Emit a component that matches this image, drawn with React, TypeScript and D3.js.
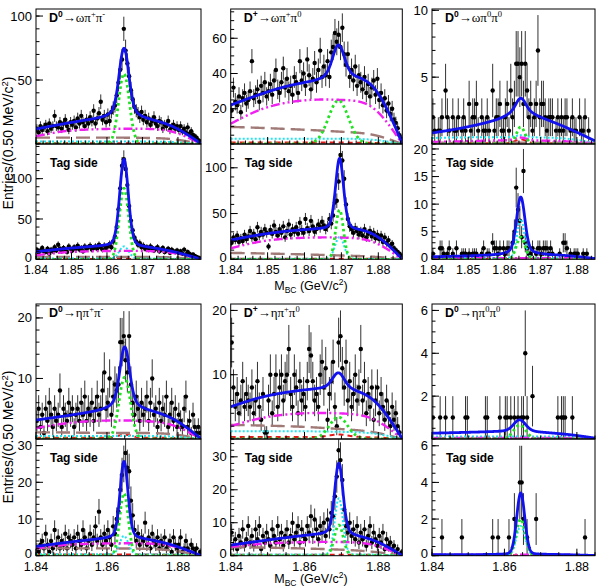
import React from 'react';
import * as d3 from 'd3';

const SANS = 'Liberation Sans, Arial, Helvetica, sans-serif';
const SERIF = 'Liberation Serif, Times New Roman, serif';

const M_LO = 1.84;
const M_EDGE = 1.8865; // kinematic endpoint used by the background splines
const BIN = 0.0005;

// bin contents, 0.5 MeV/c2 bins starting at 1.84
const omegaPipPim = [
  12, 9, 14, 11, 13, 15, 10, 16, 12, 14,
  22, 14, 13, 17, 12, 16, 19, 14, 11, 17,
  15, 18, 13, 20, 16, 22, 17, 14, 19, 16,
  21, 18, 26, 16, 20, 24, 33, 19, 22, 17,
  23, 18, 25, 28, 30, 38, 48, 58, 66, 90,
  73, 63, 53, 42, 35, 29, 26, 24, 21, 25,
  19, 22, 17, 20, 15, 18, 21, 16, 14, 18,
  17, 12, 15, 14, 18, 11, 13, 15, 12, 14,
  11, 14, 10, 12, 9, 13, 8, 10, 7, 6, 5, 3, 2,
];
const omegaPipPimTag = [
  12, 8, 11, 14, 10, 9, 13, 7, 12, 10,
  15, 11, 18, 13, 10, 14, 12, 9, 16, 13,
  11, 15, 13, 17, 12, 14, 10, 16, 13, 15,
  17, 12, 14, 16, 13, 18, 15, 12, 17, 14,
  16, 19, 15, 22, 28, 40, 62, 88, 116, 124,
  112, 92, 66, 48, 36, 27, 22, 18, 20, 15,
  17, 13, 15, 12, 16, 14, 11, 13, 15, 10,
  12, 14, 9, 11, 13, 8, 12, 10, 9, 11,
  8, 10, 7, 12, 6, 9, 7, 5, 6, 4, 3, 2, 1,
];
const omegaPipPi0 = [
  19, 32, 24, 22, 27, 18, 26, 29, 23, 25,
  30, 47, 26, 28, 31, 24, 33, 29, 35, 27,
  30, 34, 28, 36, 42, 31, 29, 35, 43, 32,
  37, 30, 33, 28, 38, 35, 29, 47, 36, 40,
  33, 48, 39, 31, 37, 46, 35, 42, 53, 38,
  44, 39, 47, 38, 52, 55, 63, 58, 62, 55,
  66, 51, 45, 51, 38, 42, 36, 44, 33, 39,
  35, 31, 38, 29, 34, 27, 32, 36, 28, 37,
  25, 29, 22, 26, 19, 23, 17, 20, 14, 12, 9, 5, 3,
];
const omegaPipPi0Tag = [
  18, 24, 21, 26, 19, 23, 20, 27, 22, 25,
  31, 24, 28, 22, 35, 26, 30, 27, 33, 29,
  14, 32, 28, 37, 30, 26, 33, 29, 36, 24,
  31, 38, 27, 33, 30, 35, 28, 40, 32, 29,
  44, 34, 31, 42, 36, 30, 33, 38, 35, 41,
  37, 33, 36, 44, 39, 48, 62, 64, 85, 114,
  108, 88, 60, 44, 36, 33, 29, 34, 31, 27,
  30, 26, 33, 24, 28, 31, 25, 29, 23, 27,
  22, 26, 19, 24, 18, 21, 15, 17, 12, 10, 8, 6, 4,
];
const omegaPi0Pi0 = [
  2, 1, 0, 1, 1, 2, 0, 4, 2, 1,
  0, 2, 1, 1, 2, 0, 1, 2, 1, 0,
  3, 1, 2, 2, 3, 1, 0, 2, 1, 1,
  2, 1, 0, 4, 1, 2, 2, 3, 1, 1,
  2, 3, 1, 4, 2, 3, 6, 6, 5, 6,
  3, 6, 4, 2, 3, 1, 2, 3, 7, 2,
  3, 3, 2, 1, 2, 2, 2, 0, 1, 2,
  1, 2, 1, 2, 2, 0, 1, 2, 1, 1,
  0, 2, 1, 1, 2, 0, 1, 0, 0, 0,
];
const omegaPi0Pi0Tag = [
  1, 0, 0, 0, 2, 2, 1, 0, 1, 2,
  0, 1, 0, 2, 0, 0, 1, 1, 1, 0,
  1, 0, 1, 1, 1, 0, 0, 1, 2, 0,
  1, 1, 0, 3, 2, 2, 1, 2, 0, 2,
  1, 2, 2, 0, 3, 5, 13, 9, 7, 4,
  16, 3, 2, 1, 1, 2, 0, 1, 2, 2,
  1, 2, 2, 2, 1, 2, 1, 0, 0, 0,
  1, 0, 3, 3, 2, 0, 1, 0, 1, 1,
  1, 0, 0, 1, 0, 1, 0, 0, 0, 0,
];
const etaPipPim = [
  3, 5, 2, 4, 1, 5, 3, 6, 4, 2,
  5, 3, 4, 8, 2, 5, 4, 3, 6, 4,
  5, 2, 4, 5, 3, 6, 4, 7, 3, 5,
  4, 6, 3, 5, 7, 4, 5, 8, 11, 5,
  6, 10, 4, 7, 9, 8, 9, 16, 16, 17,
  13, 11, 17, 9, 6, 4, 7, 5, 3, 6,
  4, 5, 7, 3, 6, 10, 4, 5, 2, 6,
  3, 5, 4, 7, 2, 4, 6, 3, 5, 2,
  4, 3, 2, 5, 7, 2, 3, 1, 4, 2, 1, 2, 1,
];
const etaPipPimTag = [
  2, 1, 3, 4, 2, 6, 3, 1, 4, 2,
  7, 3, 5, 2, 4, 3, 6, 2, 5, 4,
  3, 5, 2, 6, 4, 3, 7, 5, 2, 4,
  6, 3, 5, 8, 4, 12, 5, 3, 6, 4,
  7, 5, 3, 8, 6, 10, 12, 18, 22, 25,
  28, 24, 23, 15, 11, 7, 4, 6, 3, 5,
  4, 9, 3, 5, 2, 6, 4, 3, 5, 2,
  4, 3, 5, 2, 3, 4, 1, 5, 3, 2,
  3, 5, 1, 2, 4, 2, 1, 3, 2, 1, 2, 0, 1,
];
const etaPipPi0 = [
  15, 8, 5, 7, 4, 6, 9, 5, 7, 6,
  5, 8, 4, 6, 9, 5, 3, 7, 1, 1,
  6, 10, 4, 7, 10, 5, 8, 10, 6, 9,
  10, 14, 7, 5, 10, 8, 4, 9, 6, 7,
  5, 9, 14, 13, 9, 6, 7, 5, 10, 12,
  8, 11, 3, 7, 9, 12, 5, 2, 15, 16,
  11, 8, 12, 6, 9, 5, 7, 10, 6, 8,
  14, 6, 9, 4, 7, 5, 8, 3, 6, 8,
  4, 7, 5, 3, 6, 4, 2, 5, 3, 4, 2, 1, 0,
];
const etaPipPi0Tag = [
  7, 3, 5, 2, 6, 4, 8, 3, 5, 9,
  4, 6, 3, 8, 5, 9, 2, 6, 4, 7,
  5, 3, 8, 6, 4, 9, 5, 7, 3, 6,
  8, 4, 6, 10, 5, 7, 9, 4, 8, 6,
  5, 9, 7, 12, 6, 11, 8, 5, 9, 7,
  10, 6, 11, 8, 13, 12, 18, 24, 32, 29,
  23, 14, 9, 7, 10, 6, 8, 5, 9, 4,
  7, 5, 8, 3, 6, 9, 4, 7, 5, 3,
  6, 4, 7, 2, 5, 3, 4, 2, 3, 1, 2, 0, 1,
];
const etaPi0Pi0 = [
  1, 0, 0, 0, 1, 0, 0, 1, 0, 0,
  0, 1, 0, 0, 0, 0, 0, 0, 1, 1,
  0, 0, 0, 0, 0, 0, 0, 0, 0, 1,
  1, 0, 0, 0, 0, 0, 0, 1, 0, 0,
  1, 1, 0, 1, 0, 1, 0, 1, 0, 1,
  1, 4, 1, 0, 0, 2, 0, 0, 0, 0,
  0, 0, 0, 0, 0, 0, 0, 0, 0, 1,
  0, 1, 1, 1, 0, 0, 0, 1, 0, 0,
  0, 0, 0, 0, 0, 0, 0, 0, 0, 0,
];
const etaPi0Pi0Tag = [
  0, 0, 0, 0, 0, 1, 0, 0, 0, 0,
  0, 0, 0, 0, 0, 0, 1, 0, 0, 0,
  0, 0, 0, 0, 0, 0, 0, 0, 0, 0,
  0, 0, 0, 1, 0, 0, 1, 0, 0, 0,
  0, 0, 1, 0, 0, 2, 0, 0, 4, 4,
  2, 0, 1, 0, 0, 0, 0, 2, 0, 0,
  0, 0, 0, 0, 0, 0, 0, 0, 0, 0,
  0, 0, 0, 0, 0, 0, 0, 0, 0, 0,
  0, 0, 0, 0, 1, 0, 0, 0, 0, 0,
];

// fit components: [kind, spline knots (7, from 1.84 to the endpoint), gauss amp, gauss sigma, lorentz amp, lorentz half-width]
type Curve = [string, number[], number, number, number, number];

const fitOmegaPipPim: Curve[] = [
  ['other', [0.6, 0.6, 0.6, 0.6, 0.6, 0.5, 0], 0, 1, 0, 1],
  ['bkg', [5, 5, 5, 5, 4.8, 4.3, 0], 0, 1, 0, 1],
  ['peak', [2, 2, 2, 2, 1.9, 1.7, 0], 0, 1, 0, 1],
  ['comb', [6, 10.5, 11.5, 12, 12, 11, 0], 0, 1, 0, 1],
  ['sig', [0, 0, 0, 0, 0, 0, 0], 55, 0.0015, 0, 1],
  ['total', [11.5, 15.5, 18.5, 19, 18.5, 14.5, 0], 42, 0.0013, 14, 0.003],
];
const fitOmegaPipPimTag: Curve[] = [
  ['other', [0.5, 0.5, 0.5, 0.5, 0.5, 0.4, 0], 0, 1, 0, 1],
  ['bkg', [3, 3, 3, 3, 3, 2.6, 0], 0, 1, 0, 1],
  ['peak', [1, 1, 1, 1, 1, 0.9, 0], 15, 0.0013, 0, 1],
  ['comb', [5, 9, 10, 10.5, 10.5, 9, 0], 0, 1, 0, 1],
  ['sig', [0, 0, 0, 0, 0, 0, 0], 88, 0.0013, 0, 1],
  ['total', [9.4, 13, 15.5, 16.5, 15, 10, 0], 86, 0.0012, 22, 0.0016],
];
const fitOmegaPipPi0: Curve[] = [
  ['other', [0.8, 0.8, 0.8, 0.8, 0.8, 0.7, 0], 0, 1, 0, 1],
  ['bkg', [9.7, 9.2, 8.5, 7.8, 6.8, 6, 0], 0, 1, 0, 1],
  ['peak', [3, 3, 3, 3, 3, 2.8, 0], 0, 1, 0, 1],
  ['comb', [11.5, 20, 24, 25.5, 25, 24, 0], 0, 1, 0, 1],
  ['sig', [0, 0, 0, 0, 0, 0, 0], 24.7, 0.0027, 0, 1],
  ['total', [22, 28, 33, 35, 35, 38, 0], 12, 0.0015, 9, 0.003],
];
const fitOmegaPipPi0Tag: Curve[] = [
  ['other', [0.6, 0.6, 0.6, 0.6, 0.6, 0.5, 0], 0, 1, 0, 1],
  ['bkg', [7, 6.5, 5.8, 5, 4, 3.2, 0], 0, 1, 0, 1],
  ['peak', [0.5, 0.5, 0.5, 0.5, 0.5, 0.4, 0], 24, 0.0012, 0, 1],
  ['comb', [12, 20, 23, 24, 24, 22, 0], 0, 1, 0, 1],
  ['sig', [0, 0, 0, 0, 0, 0, 0], 54, 0.00105, 0, 1],
  ['total', [21, 27, 31, 33, 32, 32, 0], 55, 0.0011, 23, 0.0013],
];
const fitOmegaPi0Pi0: Curve[] = [
  ['other', [0.05, 0.05, 0.05, 0.05, 0.05, 0.05, 0], 0.3, 0.0015, 0, 1],
  ['bkg', [0.1, 0.1, 0.1, 0.1, 0.1, 0.1, 0], 0, 1, 0, 1],
  ['peak', [0.45, 0.5, 0.5, 0.5, 0.5, 0.4, 0], 0.15, 0.0015, 0, 1],
  ['comb', [0.15, 0.2, 0.25, 0.3, 0.25, 0.2, 0], 0.2, 0.0015, 0, 1],
  ['sig', [0, 0, 0, 0, 0, 0, 0], 1.27, 0.0012, 0, 1],
  ['total', [0.8, 1.1, 1.5, 1.75, 1.75, 1.0, 0], 0.7, 0.0012, 1.0, 0.004],
];
const fitOmegaPi0Pi0Tag: Curve[] = [
  ['other', [0.05, 0.05, 0.05, 0.05, 0.05, 0.05, 0], 0, 1, 0, 1],
  ['bkg', [0.1, 0.1, 0.1, 0.1, 0.1, 0.1, 0], 0, 1, 0, 1],
  ['peak', [0.3, 0.3, 0.3, 0.3, 0.3, 0.25, 0], 7, 0.001, 0, 1],
  ['comb', [0.2, 0.2, 0.2, 0.2, 0.2, 0.2, 0], 0, 1, 0, 1],
  ['sig', [0, 0, 0, 0, 0, 0, 0], 4, 0.0012, 0, 1],
  ['total', [0.45, 0.55, 0.65, 0.8, 0.8, 0.6, 0], 8, 0.0011, 2.5, 0.002],
];
const fitEtaPipPim: Curve[] = [
  ['other', [0.2, 0.2, 0.2, 0.2, 0.2, 0.2, 0], 0.5, 0.002, 0, 1],
  ['bkg', [1.1, 1.1, 1.0, 1.0, 1.0, 0.9, 0], 0, 1, 0, 1],
  ['peak', [0.5, 0.5, 0.5, 0.5, 0.5, 0.45, 0], 0, 1, 0, 1],
  ['comb', [1.8, 2.6, 3.0, 3.1, 3.0, 2.6, 0], 0, 1, 0, 1],
  ['sig', [0, 0, 0, 0, 0, 0, 0], 10.2, 0.0016, 0, 1],
  ['total', [3.1, 3.7, 4.3, 4.8, 4.6, 3.6, 0], 7, 0.0013, 3.5, 0.0025],
];
const fitEtaPipPimTag: Curve[] = [
  ['other', [0.3, 0.3, 0.3, 0.3, 0.3, 0.3, 0], 0, 1, 0, 1],
  ['bkg', [2, 2, 2, 2, 1.9, 1.6, 0], 0, 1, 0, 1],
  ['peak', [0.4, 0.4, 0.4, 0.4, 0.4, 0.4, 0], 5, 0.0012, 0, 1],
  ['comb', [2, 3, 3.3, 3.4, 3.4, 3.0, 0], 0, 1, 0, 1],
  ['sig', [0, 0, 0, 0, 0, 0, 0], 17, 0.0012, 0, 1],
  ['total', [2.5, 3.5, 4.3, 4.8, 4.5, 3.0, 0], 16, 0.0011, 5, 0.0015],
];
const fitEtaPipPi0: Curve[] = [
  ['other', [0.3, 0.3, 0.3, 0.3, 0.3, 0.3, 0], 0.4, 0.0025, 0, 1],
  ['bkg', [2.2, 2.1, 2.0, 1.8, 1.5, 1.2, 0], 0, 1, 0, 1],
  ['peak', [1.2, 1.2, 1.2, 1.2, 1.1, 1.0, 0], 0, 1, 0, 1],
  ['comb', [2, 3.3, 3.9, 4.1, 4.0, 3.6, 0], 0, 1, 0, 1],
  ['sig', [0, 0, 0, 0, 0, 0, 0], 3.4, 0.0025, 0, 1],
  ['total', [5, 6.5, 7.3, 7.7, 7.3, 7, 0], 1.5, 0.0015, 1.4, 0.003],
];
const fitEtaPipPi0Tag: Curve[] = [
  ['other', [0.3, 0.3, 0.3, 0.3, 0.3, 0.3, 0], 0, 1, 0, 1],
  ['bkg', [2.6, 2.5, 2.3, 2.1, 1.8, 1.3, 0], 0, 1, 0, 1],
  ['peak', [0.4, 0.4, 0.4, 0.4, 0.4, 0.4, 0], 17, 0.0011, 0, 1],
  ['comb', [2.7, 3.6, 4, 4.2, 4.2, 3.8, 0], 0, 1, 0, 1],
  ['sig', [0, 0, 0, 0, 0, 0, 0], 9.3, 0.0012, 0, 1],
  ['total', [3.2, 4.4, 5.5, 6.4, 6, 5.2, 0], 16, 0.0011, 6, 0.0016],
];
const fitEtaPi0Pi0: Curve[] = [
  ['other', [0.02, 0.02, 0.02, 0.02, 0.02, 0.02, 0], 0, 1, 0, 1],
  ['bkg', [0.02, 0.02, 0.02, 0.02, 0.02, 0.02, 0], 0, 1, 0, 1],
  ['peak', [0.12, 0.12, 0.12, 0.12, 0.12, 0.1, 0], 0, 1, 0, 1],
  ['comb', [0.05, 0.05, 0.05, 0.05, 0.05, 0.05, 0], 0, 1, 0, 1],
  ['sig', [0, 0, 0, 0, 0, 0, 0], 0.65, 0.0017, 0, 1],
  ['total', [0.27, 0.3, 0.33, 0.36, 0.3, 0.2, 0], 0.45, 0.0016, 0.1, 0.003],
];
const fitEtaPi0Pi0Tag: Curve[] = [
  ['other', [0.02, 0.02, 0.02, 0.02, 0.02, 0.02, 0], 0, 1, 0, 1],
  ['peak', [0.02, 0.02, 0.02, 0.02, 0.02, 0.02, 0], 1.6, 0.0012, 0, 1],
  ['comb', [0.05, 0.05, 0.05, 0.05, 0.05, 0.05, 0], 0, 1, 0, 1],
  ['sig', [0, 0, 0, 0, 0, 0, 0], 2.0, 0.0012, 0, 1],
  ['total', [0.05, 0.05, 0.06, 0.08, 0.07, 0.05, 0], 3.1, 0.0011, 0.25, 0.0015],
];

// peak positions (GeV/c2)
const peakMass = [1.8648, 1.8648, 1.8692, 1.8695, 1.8645, 1.8645, 1.865, 1.8648, 1.8692, 1.8693, 1.8642, 1.8645];

// decay labels: [D charge, meson, pion 1 charge, pion 2 charge]
const decays = [
  ['0', 'ω', '+', '-'], ['+', 'ω', '+', '0'], ['0', 'ω', '0', '0'],
  ['0', 'η', '+', '-'], ['+', 'η', '+', '0'], ['0', 'η', '0', '0'],
];

const STYLE: Record<string, { stroke: string; width: number; dash?: string }> = {
  other: { stroke: '#e41818', width: 2, dash: '5 4' },
  bkg: { stroke: '#a07a76', width: 2.4, dash: '14 6' },
  peak: { stroke: '#20e4f0', width: 2, dash: '2 2' },
  comb: { stroke: '#f020f0', width: 2.4, dash: '9 3 2 3 2 3' },
  sig: { stroke: '#22e022', width: 2.8, dash: '2.6 3' },
  total: { stroke: '#1212ee', width: 2.8 },
};

const COLS = [
  { x0: 36, x1: 201, hi: 1.8865 },
  { x0: 230.7, x1: 402.3, hi: 1.8865 },
  { x0: 432, x1: 595, hi: 1.885 },
];

const GROUPS = [
  { sig: [9, 144], tag: [144, 259.3], xLabels: [1.84, 1.85, 1.86, 1.87, 1.88], xMinor: 0.002, labelDy: 15, titleY: 290, yTitle: 143 },
  { sig: [304, 439], tag: [439, 555.7], xLabels: [1.84, 1.86, 1.88], xMinor: 0.005, labelDy: 15, titleY: 583, yTitle: 437 },
];

type PanelSpec = {
  group: number; col: number; tag: boolean; counts: number[]; fit: Curve[];
  yMax: number; yTicks: number[]; yMinor: number; mu: number;
};

const panels: PanelSpec[] = [
  { group: 0, col: 0, tag: false, counts: omegaPipPim, fit: fitOmegaPipPim, yMax: 105.5, yTicks: [50, 100], yMinor: 10, mu: peakMass[0] },
  { group: 0, col: 0, tag: true, counts: omegaPipPimTag, fit: fitOmegaPipPimTag, yMax: 143, yTicks: [0, 50, 100], yMinor: 10, mu: peakMass[1] },
  { group: 0, col: 1, tag: false, counts: omegaPipPi0, fit: fitOmegaPipPi0, yMax: 76.6, yTicks: [20, 40, 60], yMinor: 5, mu: peakMass[2] },
  { group: 0, col: 1, tag: true, counts: omegaPipPi0Tag, fit: fitOmegaPipPi0Tag, yMax: 126, yTicks: [0, 50, 100], yMinor: 10, mu: peakMass[3] },
  { group: 0, col: 2, tag: false, counts: omegaPi0Pi0, fit: fitOmegaPi0Pi0, yMax: 10.1, yTicks: [5, 10], yMinor: 1, mu: peakMass[4] },
  { group: 0, col: 2, tag: true, counts: omegaPi0Pi0Tag, fit: fitOmegaPi0Pi0Tag, yMax: 20.9, yTicks: [0, 5, 10, 15, 20], yMinor: 1, mu: peakMass[5] },
  { group: 1, col: 0, tag: false, counts: etaPipPim, fit: fitEtaPipPim, yMax: 22.3, yTicks: [10, 20], yMinor: 2, mu: peakMass[6] },
  { group: 1, col: 0, tag: true, counts: etaPipPimTag, fit: fitEtaPipPimTag, yMax: 31.8, yTicks: [0, 10, 20, 30], yMinor: 2, mu: peakMass[7] },
  { group: 1, col: 1, tag: false, counts: etaPipPi0, fit: fitEtaPipPi0, yMax: 21, yTicks: [10, 20], yMinor: 2, mu: peakMass[8] },
  { group: 1, col: 1, tag: true, counts: etaPipPi0Tag, fit: fitEtaPipPi0Tag, yMax: 35.4, yTicks: [0, 10, 20, 30], yMinor: 2, mu: peakMass[9] },
  { group: 1, col: 2, tag: false, counts: etaPi0Pi0, fit: fitEtaPi0Pi0, yMax: 6.3, yTicks: [2, 4, 6], yMinor: 0.5, mu: peakMass[10] },
  { group: 1, col: 2, tag: true, counts: etaPi0Pi0Tag, fit: fitEtaPi0Pi0Tag, yMax: 6.37, yTicks: [0, 2, 4, 6], yMinor: 0.5, mu: peakMass[11] },
];

function curveValue(c: Curve, m: number, mu: number) {
  const [, knots, gA, gS, lA, lG] = c;
  const u = Math.min(1, Math.max(0, (m - M_LO) / (M_EDGE - M_LO)));
  const base = d3.interpolateBasis(knots)(u);
  const g = gA * Math.exp(-0.5 * ((m - mu) / gS) ** 2);
  const l = lA / (1 + ((m - mu) / lG) ** 2);
  return base + g + l;
}

function DecayLabel({ x, y, d }: { x: number; y: number; d: string[] }) {
  const [q, meson, a, b] = d;
  return (
    <text x={x} y={y} fontFamily={SANS} fontSize={12.5}>
      <tspan fontWeight="bold">D</tspan>
      <tspan fontWeight="bold" fontSize={8.5} dy={-5}>{q}</tspan>
      <tspan fontFamily={SERIF} fontSize={13} dy={5}>{'→' + meson + 'π'}</tspan>
      <tspan fontFamily={SERIF} fontSize={8.5} dy={-5}>{a}</tspan>
      <tspan fontFamily={SERIF} fontSize={13} dy={5}>π</tspan>
      <tspan fontFamily={SERIF} fontSize={8.5} dy={-5}>{b}</tspan>
    </text>
  );
}

function Panel({ p, idx }: { p: PanelSpec; idx: number }) {
  const col = COLS[p.col];
  const grp = GROUPS[p.group];
  const [yTop, yBot] = p.tag ? grp.tag : grp.sig;
  const x = d3.scaleLinear().domain([M_LO, col.hi]).range([col.x0, col.x1]);
  const y = d3.scaleLinear().domain([0, p.yMax]).range([yBot, yTop]);
  const clip = `clip-${idx}`;

  const grid = d3.range(M_LO, col.hi + 1e-9, 0.00005);
  const line = d3.line<number>()
    .x((m) => x(m))
    .y((m) => y(0));

  const xMajor = grp.xLabels;
  const xMinor = d3.range(M_LO, col.hi + 1e-9, grp.xMinor);
  const yMinor = d3.range(0, p.yMax + 1e-9, p.yMinor);

  return (
    <g>
      <defs>
        <clipPath id={clip}>
          <rect x={col.x0} y={yTop} width={col.x1 - col.x0} height={yBot - yTop} />
        </clipPath>
      </defs>
      <g clipPath={`url(#${clip})`}>
        {p.counts.map((n, i) => {
          if (n <= 0) return null;
          const m = M_LO + (i + 0.5) * BIN;
          if (m > col.hi) return null;
          const e = Math.sqrt(n);
          return (
            <g key={i}>
              <line x1={x(m)} x2={x(m)} y1={y(n - e)} y2={y(n + e)} stroke="#333" strokeWidth={1} />
              <circle cx={x(m)} cy={y(n)} r={2.2} fill="#000" />
            </g>
          );
        })}
        {p.fit.map((c, k) => {
          const s = STYLE[c[0]];
          const path = line.y((m) => y(curveValue(c, m, p.mu)))(grid);
          return (
            <path key={k} d={path || ''} fill="none" stroke={s.stroke} strokeWidth={s.width}
              strokeDasharray={s.dash} strokeLinejoin="round" />
          );
        })}
      </g>
      <rect x={col.x0} y={yTop} width={col.x1 - col.x0} height={yBot - yTop} fill="none" stroke="#000" strokeWidth={1} />
      {yMinor.map((v, i) => (
        <line key={'ym' + i} x1={col.x0} x2={col.x0 + 3.5} y1={y(v)} y2={y(v)} stroke="#000" />
      ))}
      {p.yTicks.map((v) => (
        <g key={'yt' + v}>
          <line x1={col.x0} x2={col.x0 + 7} y1={y(v)} y2={y(v)} stroke="#000" />
          <text x={col.x0 - 4} y={y(v)} dy={v === 0 ? '0.2em' : '0.35em'} textAnchor="end" fontFamily={SANS} fontSize={13}>{v}</text>
        </g>
      ))}
      {xMinor.map((v, i) => (
        <line key={'xm' + i} x1={x(v)} x2={x(v)} y1={yBot} y2={yBot - 3.5} stroke="#000" />
      ))}
      {xMajor.map((v) => (
        <line key={'xt' + v} x1={x(v)} x2={x(v)} y1={yBot} y2={yBot - 7} stroke="#000" />
      ))}
      {p.tag && xMajor.map((v) => (
        <text key={'xl' + v} x={x(v)} y={yBot + grp.labelDy} textAnchor="middle" fontFamily={SANS} fontSize={12.5}>
          {v.toFixed(2)}
        </text>
      ))}
      {p.tag ? (
        <text x={col.x0 + 14} y={yTop + 23} fontFamily={SANS} fontSize={12} fontWeight="bold">Tag side</text>
      ) : (
        <DecayLabel x={col.x0 + 13} y={yTop + 12.5} d={decays[p.group * 3 + p.col]} />
      )}
    </g>
  );
}

export default function App() {
  return (
    <svg width={600} height={587} style={{ position: 'absolute', left: 0, top: 0, background: '#fff' }}>
      <rect width={600} height={587} fill="#fff" />
      {panels.map((p, i) => <Panel key={i} p={p} idx={i} />)}
      {GROUPS.map((g, i) => (
        <g key={i}>
          <text transform={`translate(13,${g.yTitle}) rotate(-90)`} textAnchor="middle" fontFamily={SANS} fontSize={14}>
            Entries/(0.50 MeV/c<tspan fontSize={9.5} dy={-5}>2</tspan><tspan dy={5}>)</tspan>
          </text>
          <text x={311} y={g.titleY} textAnchor="middle" fontFamily={SANS} fontSize={12.5}>
            M<tspan fontSize={8.5} dy={3}>BC</tspan><tspan dy={-3}> (GeV/c</tspan><tspan fontSize={8.5} dy={-5}>2</tspan><tspan dy={5}>)</tspan>
          </text>
        </g>
      ))}
    </svg>
  );
}
